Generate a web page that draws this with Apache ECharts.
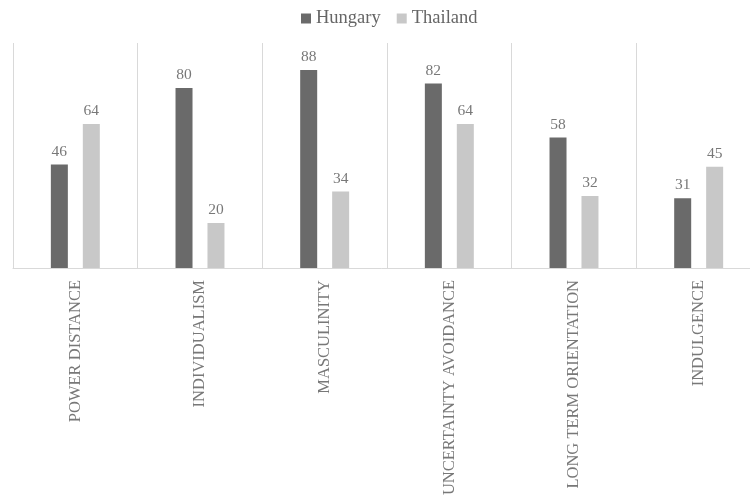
<!DOCTYPE html>
<html>
<head>
<meta charset="utf-8">
<script src="https://cdn.jsdelivr.net/npm/echarts@6/dist/echarts.min.js"></script>
<style>
  html, body { margin: 0; padding: 0; background: #ffffff; }
  #chart { width: 750px; height: 495px; }
</style>
</head>
<body>
<div id="chart"></div>
<script>
// Hofstede cultural dimensions: Hungary vs Thailand
const categories = [
  'POWER DISTANCE',
  'INDIVIDUALISM',
  'MASCULINITY',
  'UNCERTAINTY AVOIDANCE',
  'LONG TERM ORIENTATION',
  'INDULGENCE'
];
const hungary = [46, 80, 88, 82, 58, 31];
const thailand = [64, 20, 34, 64, 32, 45];

const serif = '"Liberation Serif", "Times New Roman", serif';
const textGray = '#787878';

const chart = echarts.init(document.getElementById('chart'));
chart.setOption({
  animation: false,
  backgroundColor: '#ffffff',
  legend: {
    top: 4,
    left: 296,
    itemWidth: 10,
    itemHeight: 10,
    itemGap: 16,
    icon: 'rect',
    textStyle: { fontFamily: serif, fontSize: 18.5, color: '#666666' },
    data: ['Hungary', 'Thailand']
  },
  // the plot runs a little past the right edge of the canvas;
  // keep the grid fixed even though long labels overflow the bottom
  grid: {
    left: 13, width: 748, top: 43, bottom: 227,
    containLabel: false,
    outerBoundsMode: 'none'
  },
  xAxis: {
    type: 'category',
    data: categories,
    boundaryGap: true,
    axisLine: { show: true, lineStyle: { color: '#d9d9d9', width: 1 } },
    axisTick: { show: false },
    splitLine: { show: true, lineStyle: { color: '#d9d9d9', width: 1 } },
    axisLabel: {
      interval: 0,
      rotate: 90,
      margin: 12,
      fontFamily: serif,
      fontSize: 16.5,
      color: textGray
    }
  },
  yAxis: {
    type: 'value',
    min: 0,
    max: 100,
    show: false,
    splitLine: { show: false }
  },
  series: [
    {
      name: 'Hungary',
      type: 'bar',
      data: hungary,
      barWidth: 17,
      barGap: '88%',
      itemStyle: { color: '#6a6a6a' },
      label: {
        show: true,
        position: 'top',
        distance: 5,
        fontFamily: serif,
        fontSize: 15.5,
        color: textGray
      }
    },
    {
      name: 'Thailand',
      type: 'bar',
      data: thailand,
      barWidth: 17,
      itemStyle: { color: '#c8c8c8' },
      label: {
        show: true,
        position: 'top',
        distance: 5,
        fontFamily: serif,
        fontSize: 15.5,
        color: textGray
      }
    }
  ]
});
</script>
</body>
</html>
